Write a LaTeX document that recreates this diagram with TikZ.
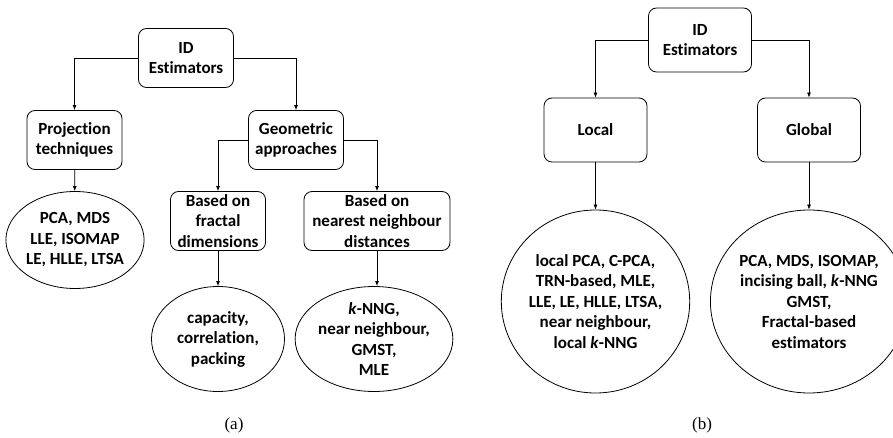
\documentclass[tikz,border=0pt]{standalone}
\usepackage{fontspec}
\setmainfont{Liberation Serif}
\newfontfamily\boxfont[Ligatures=NoCommon]{Carlito}
\usetikzlibrary{shapes.geometric,arrows.meta}
\tikzset{
  lbl/.style={font=\boxfont\bfseries\fontsize{17}{20.5}\selectfont,align=center},
  box/.style={lbl,draw,rounded corners=8pt,inner sep=2pt},
  oval/.style={lbl,draw,ellipse,inner sep=0pt},
  subcap/.style={font=\fontsize{17}{20}\selectfont}
}
\begin{document}
\begin{tikzpicture}[x=1pt,y=-1pt,line width=0.8pt,>={Latex[length=5pt,width=4pt]}]
      \useasboundingbox (0,0) rectangle (893,438);
      % (a)
      \draw
        (186,58) node[box,minimum width=95pt,minimum height=59pt] (estA){ID\\Estimators}
        (74.5,140) node[box,minimum width=95pt,minimum height=59pt] (proj){Projection\\techniques}
        (296,140) node[box,minimum width=95pt,minimum height=59pt] (geom){Geometric\\approaches}
        (218,221) node[box,minimum width=95pt,minimum height=59pt] (fract){Based on\\fractal\\dimensions}
        (377,221) node[box,minimum width=146pt,minimum height=59pt] (near){Based on\\nearest neighbour\\distances}
        (75,240) node[oval,minimum width=126pt,minimum height=97pt] (pca){PCA, MDS\\LLE, ISOMAP\\LE, HLLE, LTSA}
        (218,339) node[oval,minimum width=133pt,minimum height=105pt] (capac){capacity,\\correlation,\\packing}
        (374,339) node[oval,minimum width=123pt,minimum height=105pt] (knng){\textit{k}-NNG,\\near neighbour,\\GMST,\\MLE}
        (234,425) node[subcap] (capA){(a)};
      % (b)
      \draw
        (700,40) node[box,minimum width=103pt,minimum height=64pt] (estB){ID\\Estimators}
        (595.5,130) node[box,minimum width=103pt,minimum height=64pt] (local){Local}
        (809,130) node[box,minimum width=103pt,minimum height=64pt] (global){Global}
        (595.5,301.5) node[oval,minimum width=186pt,minimum height=183pt] (locset){local PCA, C-PCA,\\TRN-based, MLE,\\LLE, LE, HLLE, LTSA,\\near neighbour,\\local \textit{k}-NNG}
        (809,301.5) node[oval,minimum width=184pt,minimum height=183pt] (globset){PCA, MDS, ISOMAP,\\incising ball, \textit{k}-NNG\\GMST,\\Fractal-based\\estimators}
        (702,425) node[subcap] (capB){(b)};
      \begin{scope}[->]
        \draw (estA) -| (proj);
        \draw (estA) -| (geom);
        \draw (proj) to (pca);
        \draw (geom) -| (fract);
        \draw (geom) -| (near);
        \draw (fract) to (capac);
        \draw (near) to (near |- knng.north);
        \draw (estB) -| (local);
        \draw (estB) -| (global);
        \draw (local) to (locset);
        \draw (global) to (globset);
      \end{scope}
    \end{tikzpicture}
\end{document}
